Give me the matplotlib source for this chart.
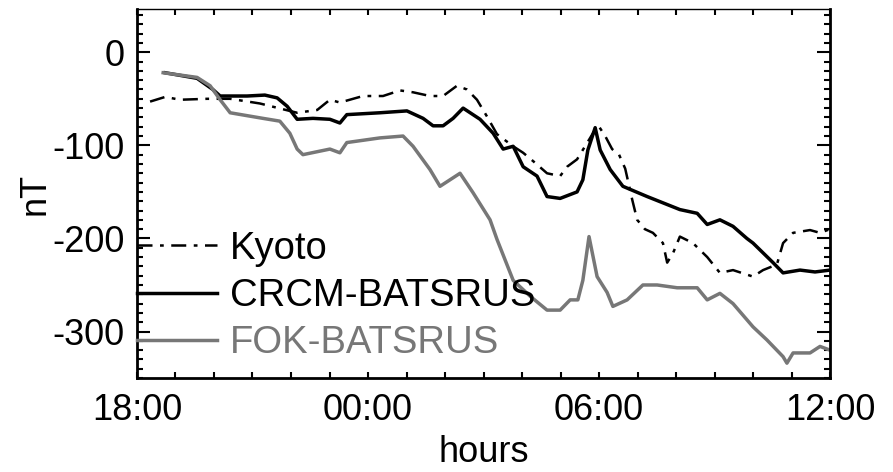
import matplotlib
matplotlib.use('Agg')
import matplotlib.pyplot as plt
from matplotlib.ticker import MultipleLocator, FixedLocator

plt.rcParams['font.family'] = ['Liberation Sans', 'DejaVu Sans']
plt.rcParams['axes.unicode_minus'] = False
plt.rcParams['xtick.direction'] = 'in'
plt.rcParams['ytick.direction'] = 'in'

# hours after 18:00, Dst in nT
kyoto_t = [0.34, 0.73, 1.12, 1.82, 2.42, 3.19, 4.16, 4.68, 5.01, 5.27, 5.87, 6.39,
           6.83, 7.17, 7.61, 7.95, 8.31, 8.57, 8.83, 9.09, 9.35, 9.77, 10.03, 10.29,
           10.65, 10.99, 11.17, 11.43, 11.77, 11.97, 12.16, 12.34, 12.52, 12.68,
           12.86, 12.99, 13.19, 13.40, 13.66, 13.77, 13.92, 14.10, 14.44, 14.81,
           15.14, 15.48, 16.00, 16.26, 16.62, 16.78, 17.04, 17.48, 17.74, 18.0]
kyoto_v = [-53, -48, -51, -50, -50, -55, -65, -62, -51, -54, -47, -47,
           -41, -43, -47, -47, -36, -40, -51, -69, -88, -101, -108, -117,
           -130, -133, -123, -115, -92, -78, -90, -104, -110, -125,
           -158, -180, -190, -194, -205, -226, -216, -198, -205, -220,
           -237, -234, -241, -234, -228, -205, -194, -191, -194, -190]

crcm_t = [0.73, 1.56, 1.97, 2.16, 2.86, 3.32, 3.64, 3.90, 4.16, 4.57, 5.01, 5.27,
          5.45, 6.31, 7.01, 7.43, 7.69, 7.95, 8.21, 8.47, 8.91, 9.25, 9.51, 9.77,
          10.03, 10.39, 10.65, 10.99, 11.43, 11.58, 11.71, 11.90, 12.03, 12.29,
          12.62, 13.25, 14.10, 14.55, 14.81, 15.14, 15.48, 15.84, 16.00, 16.52,
          16.78, 17.22, 17.61, 18.0]
crcm_v = [-22, -28, -40, -47, -47, -46, -49, -58, -72, -71, -72, -76,
          -67, -65, -63, -71, -79, -79, -71, -60, -72, -87, -104, -101,
          -123, -133, -155, -157, -150, -137, -105, -81, -105, -126,
          -144, -155, -169, -173, -185, -180, -187, -200, -205, -226,
          -237, -234, -236, -234]

fok_t = [0.68, 1.56, 1.90, 2.16, 2.42, 3.27, 3.71, 3.97, 4.16, 4.31, 5.01, 5.27,
         5.45, 6.31, 6.91, 7.17, 7.61, 7.87, 8.39, 8.73, 9.17, 9.35, 9.77, 10.21,
         10.65, 10.99, 11.25, 11.45, 11.58, 11.74, 11.95, 12.21, 12.36, 12.73,
         13.14, 13.51, 14.03, 14.55, 14.81, 15.14, 15.48, 16.00, 16.36, 16.78,
         16.88, 17.04, 17.48, 17.74, 18.0]
fok_v = [-22, -27, -36, -51, -65, -71, -74, -87, -104, -110, -104, -108,
         -97, -92, -90, -101, -126, -144, -130, -151, -180, -201, -245, -262,
         -277, -277, -266, -266, -245, -198, -241, -258, -273, -266,
         -250, -250, -253, -253, -266, -259, -270, -295, -309, -327,
         -334, -323, -323, -316, -320]

tick_pos = [0, 6, 12, 18]
tick_lab = ['18:00', '00:00', '06:00', '12:00']

gray = '#777777'

fig = plt.figure(figsize=(8.93, 4.72), dpi=100)
ax = fig.add_axes([0.1534, 0.199, 0.7761, 0.781])

ax.plot(kyoto_t, kyoto_v, color='black', lw=1.8, ls=(0, (6, 3, 1.5, 3)), label='Kyoto')
ax.plot(crcm_t, crcm_v, color='black', lw=2.5, label='CRCM-BATSRUS')
ax.plot(fok_t, fok_v, color=gray, lw=2.5, label='FOK-BATSRUS')

ax.set_xlim(0, 18)
ax.set_ylim(-350, 46)

ax.xaxis.set_major_locator(FixedLocator(tick_pos))
ax.set_xticklabels(tick_lab)
ax.xaxis.set_minor_locator(MultipleLocator(1))
ax.yaxis.set_major_locator(MultipleLocator(100))
ax.yaxis.set_minor_locator(MultipleLocator(10))

ax.tick_params(axis='both', which='both', top=True, right=True, labelsize=26)
ax.tick_params(axis='x', which='both', length=4, width=1.5, pad=11)
ax.tick_params(axis='y', which='major', length=9.5, width=1.5, pad=9)
ax.tick_params(axis='y', which='minor', length=4, width=1.5)

for loc in ['left', 'right', 'bottom']:
    ax.spines[loc].set_linewidth(2.0)
ax.spines['top'].set_linewidth(1.0)

ax.set_xlabel('hours', fontsize=26, labelpad=5)
ax.set_ylabel('nT', fontsize=26, labelpad=0)

leg = ax.legend(loc='lower left', bbox_to_anchor=(0, 0.045), frameon=False,
                fontsize=27.5, handlelength=2.1, handletextpad=0.33,
                labelspacing=0.3, borderpad=0, borderaxespad=0)
leg.get_texts()[2].set_color(gray)

plt.savefig('out.png', dpi=100)
